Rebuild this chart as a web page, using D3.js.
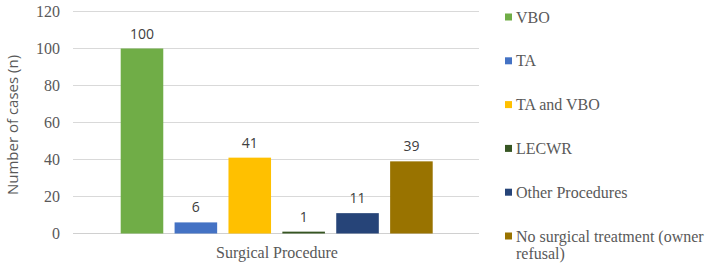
<!DOCTYPE html>
<html>
<head>
<meta charset="UTF-8">
<style>
  body { margin: 0; background: #fff; }
  svg { display: block; }
</style>
</head>
<body>
<svg width="708" height="267"></svg>
<script src="https://cdn.jsdelivr.net/npm/d3@7/dist/d3.min.js"></script>
<script>
    // chart values
    let categories = ["VBO", "TA", "TA and VBO", "LECWR", "Other Procedures", "No surgical treatment (owner refusal)"];
    let cases = [100, 6, 41, 1, 11, 39];
    let colors = ["#70ad47", "#4472c4", "#ffc000", "#375623", "#264478", "#997300"];
    let yTicks = [0, 20, 40, 60, 80, 100, 120];

    let svg = d3.select("svg");

    let x = d3.scaleBand()
        .domain(categories)
        .range([120.7, 432.7])
        .paddingInner(0.21)
        .paddingOuter(0);

    let y = d3.scaleLinear()
        .domain([0, 120])
        .range([233.5, 11.5]);

    // gridlines
    svg.append("g")
        .selectAll("line")
        .data(yTicks)
        .enter()
        .append("line")
        .attr("x1", 73)
        .attr("x2", 479)
        .attr("y1", d => y(d))
        .attr("y2", d => y(d))
        .attr("stroke", d => d === 0 ? "#d0d0d0" : "#d9d9d9")
        .attr("stroke-width", 1);

    // y tick labels
    svg.append("g")
        .selectAll("text")
        .data(yTicks)
        .enter()
        .append("text")
        .attr("x", 60)
        .attr("y", d => y(d))
        .attr("dy", "0.35em")
        .attr("text-anchor", "end")
        .attr("font-family", "Liberation Serif, Times New Roman, serif")
        .attr("font-size", 16)
        .attr("fill", "#595959")
        .text(d => d);

    // bars
    svg.append("g")
        .selectAll("rect")
        .data(categories)
        .enter()
        .append("rect")
        .attr("x", d => x(d))
        .attr("width", x.bandwidth())
        .attr("y", (d, i) => y(cases[i]))
        .attr("height", (d, i) => y(0) - y(cases[i]))
        .attr("fill", (d, i) => colors[i]);

    // value labels
    svg.append("g")
        .selectAll("text")
        .data(categories)
        .enter()
        .append("text")
        .attr("x", d => x(d) + x.bandwidth() / 2)
        .attr("y", (d, i) => y(cases[i]) - 10)
        .attr("text-anchor", "middle")
        .attr("font-family", "Open Sans, Liberation Sans, sans-serif")
        .attr("font-size", 14)
        .attr("fill", "#404040")
        .text((d, i) => cases[i]);

    // axis titles
    svg.append("text")
        .attr("transform", "translate(18,125) rotate(-90)")
        .attr("text-anchor", "middle")
        .attr("font-family", "Open Sans, Liberation Sans, sans-serif")
        .attr("font-size", 15)
        .attr("fill", "#595959")
        .text("Number of cases (n)");

    svg.append("text")
        .attr("x", 277)
        .attr("y", 258)
        .attr("text-anchor", "middle")
        .attr("font-family", "Liberation Serif, Times New Roman, serif")
        .attr("font-size", 16)
        .attr("fill", "#595959")
        .text("Surgical Procedure");

    // legend
    let legend = svg.append("g")
        .selectAll("g")
        .data(categories)
        .enter()
        .append("g")
        .attr("transform", (d, i) => "translate(505," + (17 + i * 43.8) + ")");

    legend.append("rect")
        .attr("x", 0)
        .attr("y", -3.5)
        .attr("width", 7)
        .attr("height", 7)
        .attr("fill", (d, i) => colors[i]);

    legend.append("text")
        .attr("x", 11)
        .attr("y", 0)
        .attr("dy", "0.35em")
        .attr("font-family", "Liberation Serif, Times New Roman, serif")
        .attr("font-size", 16)
        .attr("fill", "#595959")
        .each(function (d) {
            let t = d3.select(this);
            if (d.length > 30) {
                t.append("tspan").attr("x", 11).text("No surgical treatment (owner");
                t.append("tspan").attr("x", 11).attr("dy", "1.1em").text("refusal)");
            } else {
                t.text(d);
            }
        });
</script>
</body>
</html>
